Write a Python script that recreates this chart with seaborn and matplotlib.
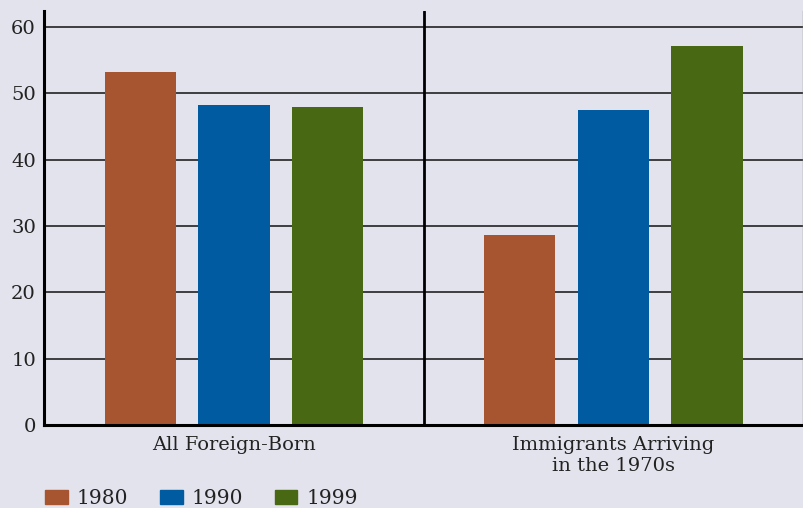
import numpy as np
import pandas as pd
import matplotlib
matplotlib.use('Agg')
import matplotlib.pyplot as plt
import matplotlib.patches as mpatches
import seaborn as sns

groups=['All Foreign-Born','Immigrants Arriving\nin the 1970s']
years=['1980','1990','1999']
vals_1980=[53.2,28.6]
vals_1990=[48.3,47.5]
vals_1999=[48.0,57.1]
colors=['#a65530','#005ba1','#486814']
bg='#e3e3ed'

df=pd.DataFrame({'group':groups*3,
                 'year':[y for y in years for _ in groups],
                 'value':vals_1980+vals_1990+vals_1999})

sns.set_style('white',{'axes.facecolor':bg,'figure.facecolor':bg})
plt.rcParams['font.family']=['DejaVu Serif']

fig=plt.figure(figsize=(8.04,5.08),dpi=100)
ax=fig.add_axes([0.055,0.163,0.944,0.815])
sns.barplot(data=df,x='group',y='value',hue='year',palette=colors,
            width=0.74,gap=0.24,saturation=1,linewidth=0,ax=ax,legend=False)

ax.set_ylim(0,62.4)
ax.set_xlim(-0.5,1.5)
ax.set_yticks(np.arange(0,61,10))
ax.yaxis.grid(True,color='#111111',lw=1.1)
ax.set_axisbelow(True)
ax.axvline(0.5,color='black',lw=2)
ax.spines['top'].set_visible(False)
ax.spines['left'].set_linewidth(2.2)
ax.spines['bottom'].set_linewidth(2.2)
ax.spines['left'].set_color('black')
ax.spines['bottom'].set_color('black')
ax.spines['right'].set_color('#888888')
ax.spines['right'].set_linewidth(1)
ax.tick_params(axis='both',length=0,labelsize=14,colors='#222222',pad=6)
ax.tick_params(axis='x',pad=8)
ax.set_xlabel('')
ax.set_ylabel('')

handles=[mpatches.Patch(color=c,label=y) for c,y in zip(colors,years)]
fig.legend(handles=handles,loc='lower left',bbox_to_anchor=(0.034,-0.035),ncol=3,
           frameon=False,fontsize=14.5,handlelength=1.1,handleheight=0.7,
           columnspacing=1.6,handletextpad=0.45,labelcolor='#222222')

fig.savefig('out.png',dpi=100,facecolor=bg)
